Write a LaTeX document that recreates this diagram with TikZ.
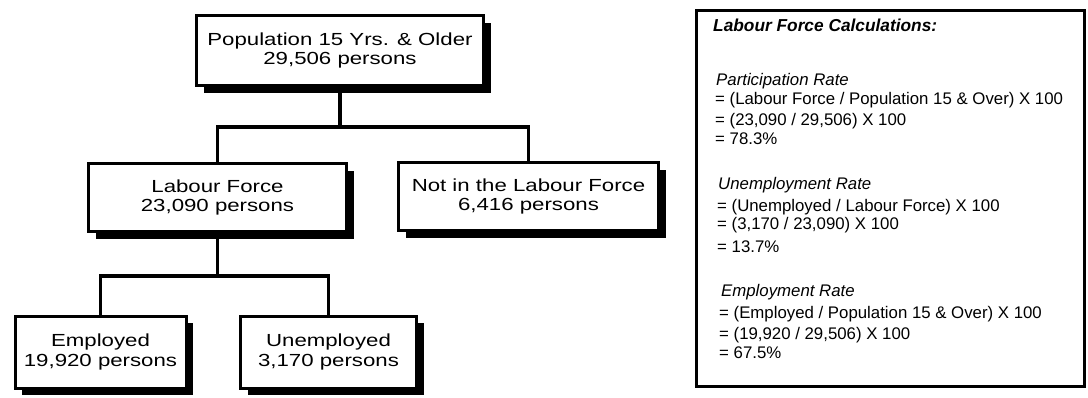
\documentclass[tikz,border=0pt]{standalone}
\usepackage{fontspec}
\usetikzlibrary{shadows}
\newfontfamily\boxFont[FakeStretch=1.27]{Liberation Sans}
\newfontfamily\calcFont{Liberation Sans}

\tikzset{
	chartBox/.style={draw, line width=3pt, fill=white, inner sep=0pt, align=center,
		font=\boxFont\fontsize{17.5}{19.5}\selectfont,
		drop shadow={shadow xshift=7pt, shadow yshift=-7pt, opacity=1, fill=black}},
	chartLink/.style={line width=3.5pt},
	calcLine/.style={anchor=base west, inner sep=0pt, font=\calcFont\fontsize{16.8}{19}\selectfont},
	calcHead/.style={calcLine, font=\calcFont\fontsize{16.8}{19}\selectfont\itshape}
}

\begin{document}
\begin{tikzpicture}[x=1pt, y=-1pt]
	\useasboundingbox (0,0) rectangle (1088,397);

	% the tree
	\node[chartBox, minimum width=287, minimum height=70] (pop)   at (340,50.5)   {Population 15 Yrs. \& Older\\29,506 persons};
	\node[chartBox, minimum width=258, minimum height=68] (lf)    at (217.5,197.5) {Labour Force\\23,090 persons};
	\node[chartBox, minimum width=260, minimum height=68] (nlf)   at (528.5,196.5) {Not in the Labour Force\\6,416 persons};
	\node[chartBox, minimum width=171, minimum height=72] (emp)   at (100.5,352)  {Employed\\19,920 persons};
	\node[chartBox, minimum width=176, minimum height=72] (unemp) at (328.5,352)  {Unemployed\\3,170 persons};

	\coordinate (splitTop) at (pop.south |- 0,127);
	\coordinate (splitLf)  at (lf.south |- 0,276);
	\draw[chartLink] (pop.south) -- (splitTop) -| (lf.north);
	\draw[chartLink] (splitTop) -| (nlf.north);
	\draw[chartLink] (lf.south) -- (splitLf) -| (emp.north);
	\draw[chartLink] (splitLf) -| (unemp.north);

	% the calculations
	\node[draw, line width=2.5pt, minimum width=388, minimum height=376, inner sep=0pt] (calc) at (890.5,198.5) {};
	\node[calcLine, font=\calcFont\fontsize{17.3}{19}\selectfont\bfseries\itshape] (calcTitle) at (713,31) {Labour Force Calculations:};

	\node[calcHead] (partHead) at (716,85)  {Participation Rate};
	\node[calcLine] (partA)    at (715,104) {= (Labour Force / Population 15 \& Over) X 100};
	\node[calcLine] (partB)    at (715,125) {= (23,090 / 29,506) X 100};
	\node[calcLine] (partC)    at (715,144) {= 78.3\%};

	\node[calcHead] (unempHead) at (718,189) {Unemployment Rate};
	\node[calcLine] (unempA)    at (717,211) {= (Unemployed / Labour Force) X 100};
	\node[calcLine] (unempB)    at (717,229) {= (3,170 / 23,090) X 100};
	\node[calcLine] (unempC)    at (717,252) {= 13.7\%};

	\node[calcHead] (empHead) at (721,296) {Employment Rate};
	\node[calcLine] (empA)    at (719,318) {= (Employed / Population 15 \& Over) X 100};
	\node[calcLine] (empB)    at (719,339) {= (19,920 / 29,506) X 100};
	\node[calcLine] (empC)    at (719,358) {= 67.5\%};
\end{tikzpicture}
\end{document}
